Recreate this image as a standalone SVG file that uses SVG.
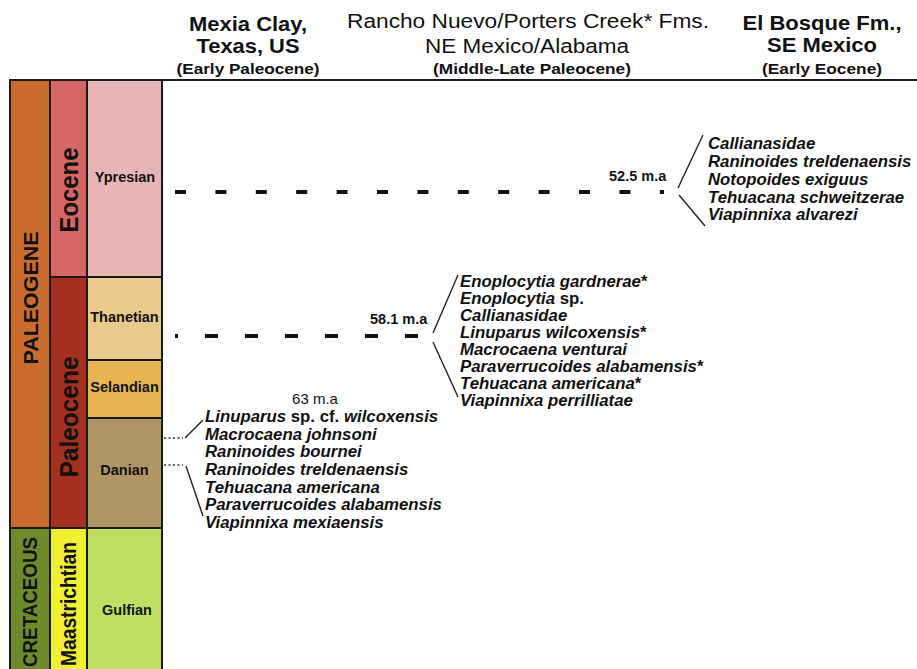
<svg xmlns="http://www.w3.org/2000/svg" width="917" height="669" viewBox="0 0 917 669">
<style>
text{font-family:"Liberation Sans",Arial,sans-serif;fill:#111}
.b{font-weight:bold}
.hd{font-weight:bold;font-size:21px}
.hr{font-size:20px}
.sub{font-weight:bold;font-size:14.5px}
.vt{font-weight:bold}
.st{font-weight:bold;font-size:14.5px}
.sp{font-weight:bold;font-style:italic;font-size:16.8px}
.n{font-style:normal}
.cell{stroke:#1a1a1a;stroke-width:2}
.dash{stroke:#111;stroke-width:4;fill:none}
.thin{stroke:#222;stroke-width:1.4;fill:none}
.dot{stroke:#333;stroke-width:1.6;stroke-dasharray:2 2.5;fill:none}
</style>

<g id="header">
  <text class="hd" x="248" y="31" text-anchor="middle" textLength="118" lengthAdjust="spacingAndGlyphs">Mexia Clay,</text>
  <text class="hd" x="248" y="53" text-anchor="middle" textLength="103" lengthAdjust="spacingAndGlyphs">Texas, US</text>
  <text class="sub" x="248" y="74" text-anchor="middle" textLength="143" lengthAdjust="spacingAndGlyphs">(Early Paleocene)</text>
  <text class="hr" x="528" y="28" text-anchor="middle" textLength="362" lengthAdjust="spacingAndGlyphs">Rancho Nuevo/Porters Creek* Fms.</text>
  <text class="hr" x="527" y="53" text-anchor="middle" textLength="204" lengthAdjust="spacingAndGlyphs">NE Mexico/Alabama</text>
  <text class="sub" x="532" y="74" text-anchor="middle" textLength="198" lengthAdjust="spacingAndGlyphs">(Middle-Late Paleocene)</text>
  <text class="hd" x="822" y="30" text-anchor="middle" textLength="159" lengthAdjust="spacingAndGlyphs">El Bosque Fm.,</text>
  <text class="hd" x="822" y="52" text-anchor="middle" textLength="110" lengthAdjust="spacingAndGlyphs">SE Mexico</text>
  <text class="sub" x="822" y="74" text-anchor="middle" textLength="120" lengthAdjust="spacingAndGlyphs">(Early Eocene)</text>
</g>

<g id="paleogene">
  <rect class="cell" x="10" y="80" width="40" height="448" fill="#CB6B2D"/>
  <text class="vt" font-size="21" transform="translate(30,298) rotate(-90)" text-anchor="middle" dy="0.36em" textLength="133" lengthAdjust="spacingAndGlyphs">PALEOGENE</text>
</g>
<g id="cretaceous">
  <rect class="cell" x="10" y="528" width="40" height="150" fill="#6E8B2B"/>
  <text class="vt" font-size="20" transform="translate(30,602) rotate(-90)" text-anchor="middle" dy="0.36em" textLength="130" lengthAdjust="spacingAndGlyphs">CRETACEOUS</text>
</g>
<g id="eocene">
  <rect class="cell" x="50" y="80" width="37" height="197" fill="#D66565"/>
  <text class="vt" font-size="25" transform="translate(68.5,190) rotate(-90)" text-anchor="middle" dy="0.36em" textLength="85" lengthAdjust="spacingAndGlyphs">Eocene</text>
</g>
<g id="paleocene">
  <rect class="cell" x="50" y="277" width="37" height="251" fill="#A43120"/>
  <text class="vt" font-size="25" transform="translate(68.5,417) rotate(-90)" text-anchor="middle" dy="0.36em" textLength="121" lengthAdjust="spacingAndGlyphs">Paleocene</text>
</g>
<g id="maastrichtian">
  <rect class="cell" x="50" y="528" width="37" height="150" fill="#F0F033"/>
  <text class="vt" font-size="22" transform="translate(68.5,604) rotate(-90)" text-anchor="middle" dy="0.36em" textLength="124" lengthAdjust="spacingAndGlyphs">Maastrichtian</text>
</g>
<g id="ypresian">
  <rect class="cell" x="87" y="80" width="75" height="197" fill="#E8B5B5"/>
  <text class="st" x="125" y="182" text-anchor="middle">Ypresian</text>
</g>
<g id="thanetian">
  <rect class="cell" x="87" y="277" width="75" height="83" fill="#E9C98C"/>
  <text class="st" x="124.5" y="322" text-anchor="middle">Thanetian</text>
</g>
<g id="selandian">
  <rect class="cell" x="87" y="360" width="75" height="58" fill="#E5B552"/>
  <text class="st" x="124.5" y="392" text-anchor="middle">Selandian</text>
</g>
<g id="danian">
  <rect class="cell" x="87" y="418" width="75" height="110" fill="#B09565"/>
  <text class="st" x="124.5" y="475" text-anchor="middle">Danian</text>
</g>
<g id="gulfian">
  <rect class="cell" x="87" y="528" width="75" height="150" fill="#BEE062"/>
  <text class="st" x="127" y="615" text-anchor="middle">Gulfian</text>
</g>
<line x1="10" y1="80" x2="917" y2="80" stroke="#1a1a1a" stroke-width="2"/>

<g id="connectors">
  <line class="dash" x1="175" y1="192" x2="664" y2="192" stroke-dasharray="11 29.4"/>
  <line class="dash" x1="175" y1="336" x2="422" y2="336" stroke-dasharray="13 27" stroke-dashoffset="10"/>
  <polyline class="thin" points="703,135 678,188"/>
  <polyline class="thin" points="679,195 705,226"/>
  <polyline class="thin" points="458,275 433,333"/>
  <polyline class="thin" points="433,342 458,397"/>
  <line class="dot" x1="164" y1="438" x2="183" y2="438"/>
  <line class="dot" x1="164" y1="465" x2="183" y2="465"/>
  <polyline class="thin" points="185,438 203,420"/>
  <polyline class="thin" points="186,466 203,516"/>
</g>

<g id="age-52-5">
  <text class="b" font-size="14.5" x="609" y="181">52.5 m.a</text>
</g>
<g id="age-58-1">
  <text class="b" font-size="14.5" x="370" y="324">58.1 m.a</text>
</g>
<g id="age-63">
  <text font-size="15" x="315" y="404" text-anchor="middle">63 m.a</text>
</g>

<g id="el-bosque-list">
  <text class="sp" x="708" y="149">Callianasidae</text>
  <text class="sp" x="708" y="167">Raninoides treldenaensis</text>
  <text class="sp" x="708" y="185">Notopoides exiguus</text>
  <text class="sp" x="708" y="203">Tehuacana schweitzerae</text>
  <text class="sp" x="708" y="220">Viapinnixa alvarezi</text>
</g>

<g id="rancho-list">
  <text class="sp" x="460" y="287">Enoplocytia gardnerae<tspan class="n">*</tspan></text>
  <text class="sp" x="460" y="304">Enoplocytia <tspan class="n">sp.</tspan></text>
  <text class="sp" x="460" y="321">Callianasidae</text>
  <text class="sp" x="460" y="338">Linuparus wilcoxensis<tspan class="n">*</tspan></text>
  <text class="sp" x="460" y="355">Macrocaena venturai</text>
  <text class="sp" x="460" y="372">Paraverrucoides alabamensis<tspan class="n">*</tspan></text>
  <text class="sp" x="460" y="389">Tehuacana americana<tspan class="n">*</tspan></text>
  <text class="sp" x="460" y="406">Viapinnixa perrilliatae</text>
</g>

<g id="mexia-list">
  <text class="sp" x="205" y="422">Linuparus <tspan class="n">sp. cf.</tspan> wilcoxensis</text>
  <text class="sp" x="205" y="440">Macrocaena johnsoni</text>
  <text class="sp" x="205" y="457">Raninoides bournei</text>
  <text class="sp" x="205" y="475">Raninoides treldenaensis</text>
  <text class="sp" x="205" y="493">Tehuacana americana</text>
  <text class="sp" x="205" y="510">Paraverrucoides alabamensis</text>
  <text class="sp" x="205" y="528">Viapinnixa mexiaensis</text>
</g>
</svg>
